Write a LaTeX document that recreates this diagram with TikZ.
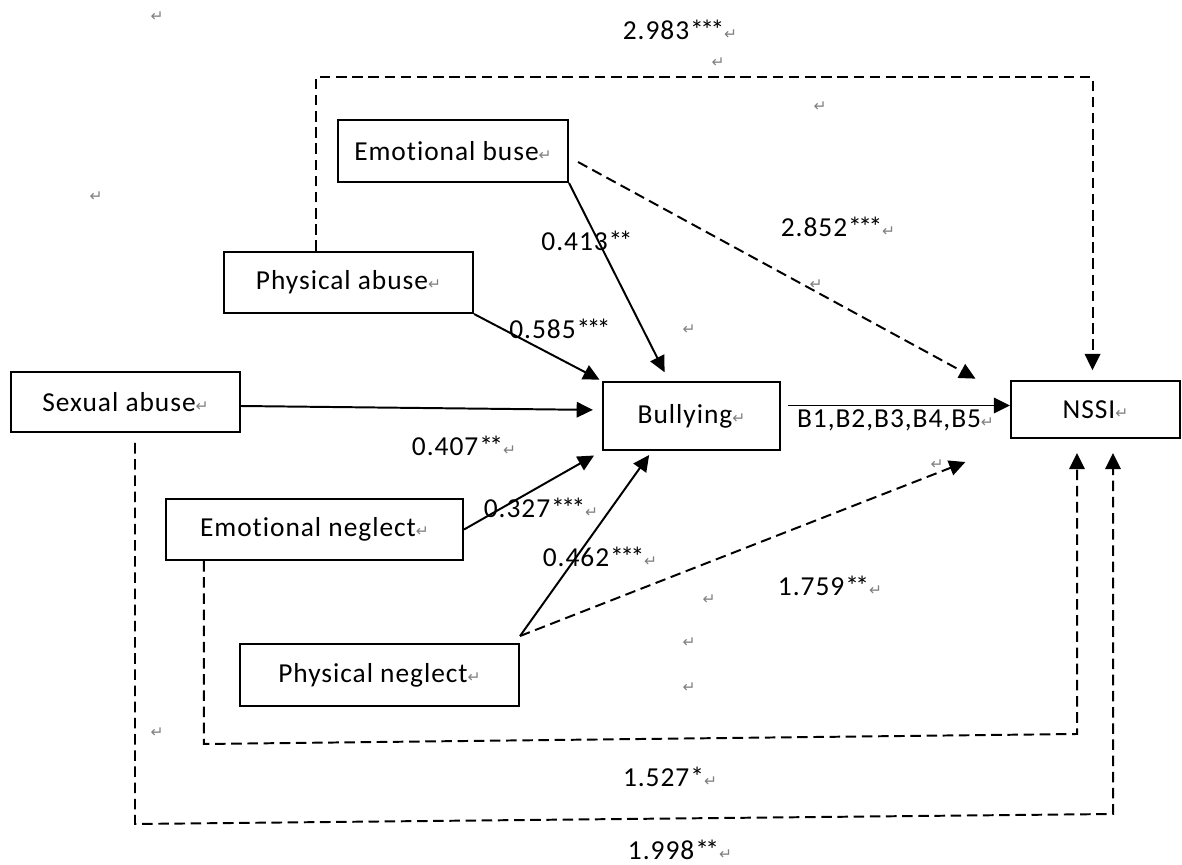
\documentclass[tikz,border=0pt]{standalone}
\usepackage{fontspec}
\setmainfont{Carlito}[LetterSpace=3.5, Ligatures={NoCommon}]
\newfontfamily\dejavu{DejaVu Sans}
\usepackage{xcolor}
\usepackage{tikz}
\usetikzlibrary{
  arrows.meta,
  calc
}
\newcommand{\parmark}{{\color{gray}\dejavu\fontsize{11pt}{11pt}\selectfont ↵}}
\newcommand{\onestar}{*}
\newcommand{\twostar}{*\kern-2.5pt*}
\newcommand{\threestar}{*\kern-2.5pt*\kern-2.5pt*}
\tikzset{
  varblock/.style={
    draw=black, line width=1.4pt,
    rectangle, inner sep=0pt,
    align=center, font=\fontsize{19.5pt}{23pt}\selectfont
  },
  coeflabel/.style={
    inner sep=0pt, font=\fontsize{19.5pt}{23pt}\selectfont
  },
  retlabel/.style={
    inner sep=0pt, text=gray, font=\dejavu\fontsize{11pt}{11pt}\selectfont
  },
  patharrow/.style={
    -{Triangle[length=11.5pt, width=11pt]}, line width=1.4pt, draw=black
  },
  dasharrow/.style={
    patharrow, dash pattern=on 7.5pt off 4pt
  }
}

\begin{document}
\begin{tikzpicture}[x=0.025cm, y=-0.025cm]
    \useasboundingbox (0,0) rectangle (1182,865);

    % blocks
    \node[varblock, minimum width=5.75cm, minimum height=1.55cm] (eab) at (453,151) {Emotional buse\parmark};
    \node[varblock, minimum width=6.225cm, minimum height=1.525cm] (pab) at (348.5,282.5) {Physical abuse\parmark};
    \node[varblock, minimum width=5.725cm, minimum height=1.5cm] (sab) at (125.5,402) {Sexual abuse\parmark};
    \node[varblock, minimum width=7.425cm, minimum height=1.525cm] (eng) at (314.5,529.5) {Emotional neglect\parmark};
    \node[varblock, minimum width=6.975cm, minimum height=1.55cm] (png) at (379.5,675) {Physical neglect\parmark};
    \node[varblock, minimum width=4.425cm, minimum height=1.7cm] (bul) at (691.5,416) {Bullying\parmark};
    \node[varblock, minimum width=4.225cm, minimum height=1.425cm] (nssi) at (1095.5,409.5) {NSSI\parmark};

    % paths into bullying
    \draw[patharrow, shorten >=7pt] (eab.south east) -- ($(bul.north west)+(67,0)$);
    \draw[patharrow, shorten >=2pt] (pab.south east) -- (bul.north west);
    \draw[patharrow, shorten >=6.5pt] ($(sab.east)+(0,4)$) -- ($(bul.west)+(0,-6)$);
    \draw[patharrow, shorten >=6.5pt] (eng.east) -- (bul.south west);
    \draw[patharrow, shorten >=3.5pt] ($(png.north east)+(0,-7)$) -- ($(bul.south west)+(50,0)$);
    \draw[patharrow, shorten <=5pt] (bul.east |- {$(nssi.west)+(0,-4)$}) -- ($(nssi.west)+(0,-4)$)
        node[midway, below=2pt, coeflabel] (labb) {B1,B2,B3,B4,B5\parmark};

    % direct paths to NSSI
    \draw[dasharrow, shorten >=2pt] ($(eab.east)+(9,11)$) -- ($(nssi.north west)+(-32,0)$);
    \draw[dasharrow, shorten >=2pt] ($(png.north east)+(0,-7)$) -- ($(nssi.south west)+(-42,22)$);
    \draw[dasharrow, shorten >=7pt] ($(pab.north west)+(93,0)$) |- ($(nssi.north)+(-3,-303)$) -- ($(nssi.north)+(-3,0)$);
    \draw[dasharrow] ($(eng.south west)+(39,0)$) -- ++(0,183) -- ($(nssi.south)+(-18.5,295)$) -- ($(nssi.south)+(-18.5,14)$);
    \draw[dasharrow] ($(sab.south)+(9.5,10)$) -- ++(0,381) -- ($(nssi.south)+(17.5,375)$) -- ($(nssi.south)+(17.5,14)$);

    % coefficients
    \node[coeflabel] (l2983) at (680,30) {2.983\threestar\parmark};
    \node[coeflabel] (l2852) at (838,227) {2.852\threestar\parmark};
    \node[coeflabel] (l0413) at (587,241) {0.413\twostar};
    \node[coeflabel] (l0585) at (560,329) {0.585\threestar};
    \node[coeflabel] (l0407) at (464,446) {0.407\twostar\parmark};
    \node[coeflabel] (l0327) at (541,508) {0.327\threestar\parmark};
    \node[coeflabel] (l0462) at (600,557) {0.462\threestar\parmark};
    \node[coeflabel] (l1759) at (830,586) {1.759\twostar\parmark};
    \node[coeflabel] (l1527) at (670,777) {1.527\onestar\parmark};
    \node[coeflabel] (l1998) at (680,850) {1.998\twostar\parmark};

    % stray paragraph marks
    \foreach \x/\y [count=\i] in {157/17, 96/197, 718/63, 820/107, 816/285, 689/330,
                                  937/465, 709/600, 689/643, 689/688, 157/733}
      \node[retlabel] (ret\i) at (\x,\y) {↵};
\end{tikzpicture}
\end{document}
